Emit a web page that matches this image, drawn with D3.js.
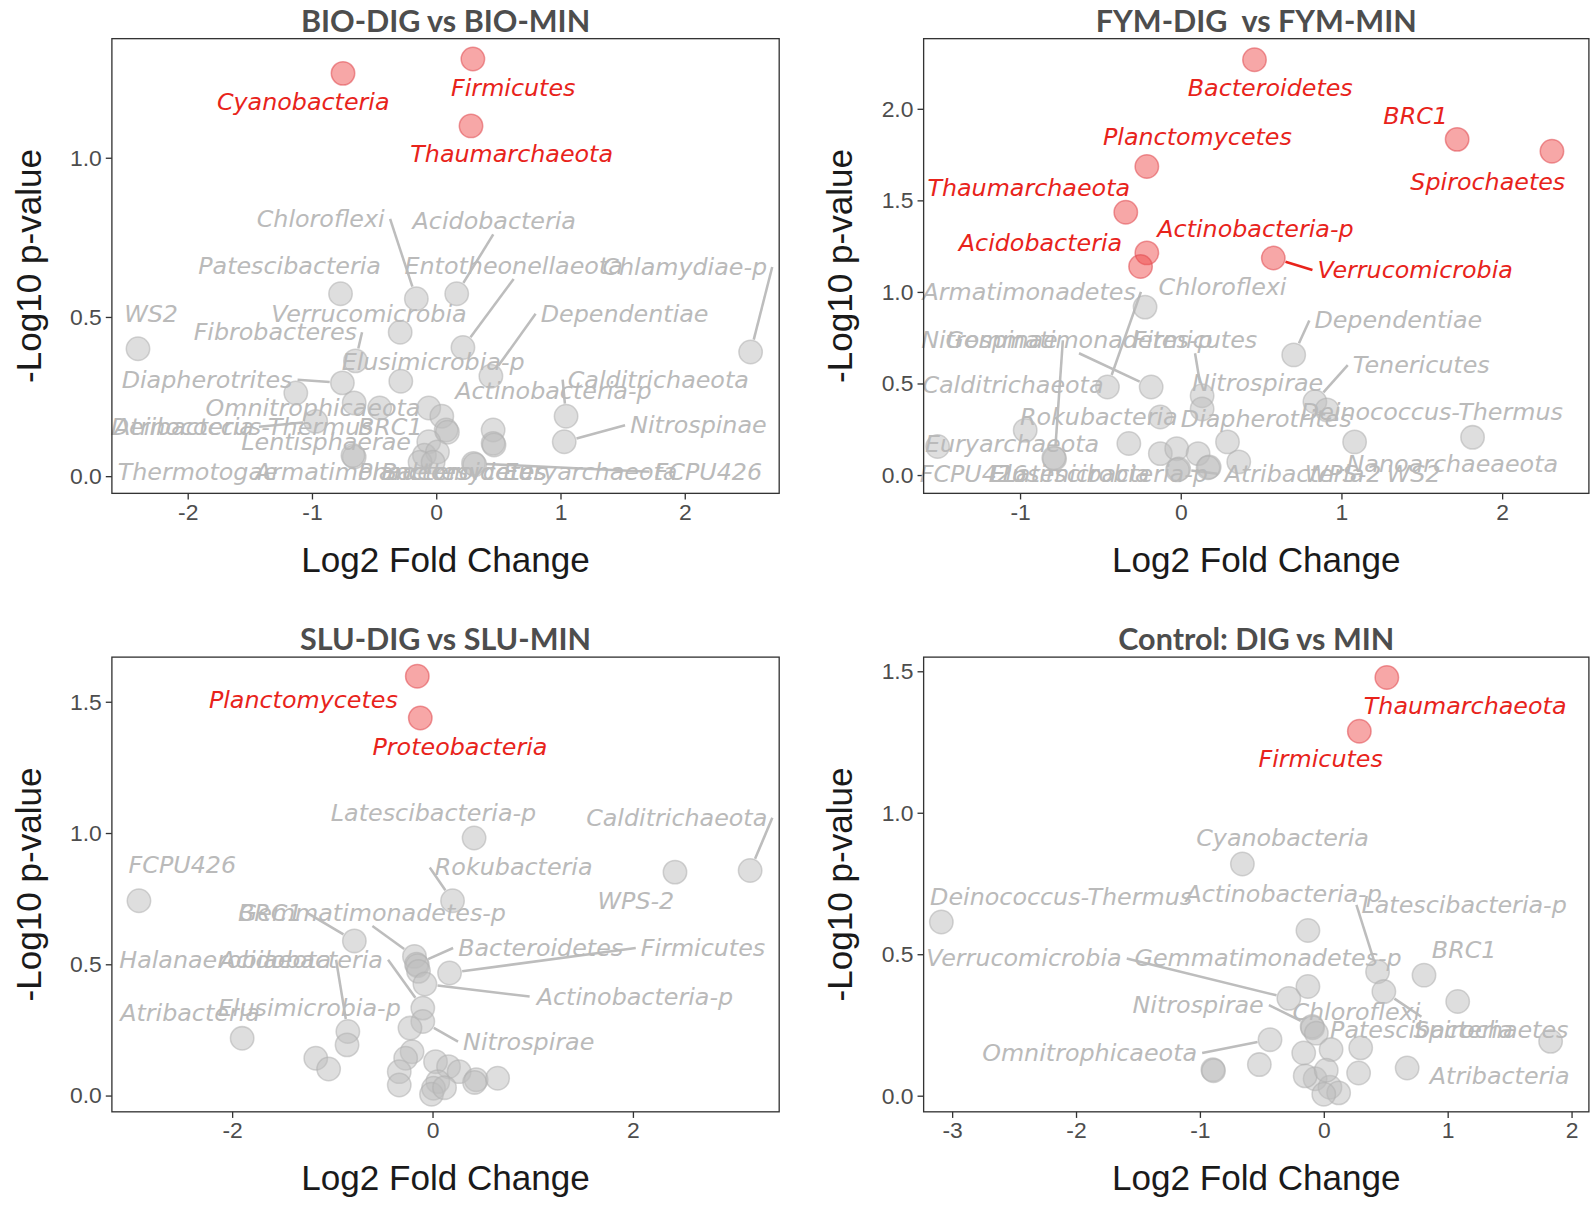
<!DOCTYPE html>
<html>
<head>
<meta charset="utf-8">
<script src="https://cdn.jsdelivr.net/npm/d3@7"></script>
<style>
  body { margin: 0; background: #fff; }
  svg { display: block; }
</style>
</head>
<body>
<div id="chart"></div>
<script>
// ---------------- data ----------------
const panelTitles = ['BIO-DIG vs BIO-MIN', 'FYM-DIG  vs FYM-MIN', 'SLU-DIG vs SLU-MIN', 'Control: DIG vs MIN'];

const xDomains = [[-2.61, 2.76], [-1.60, 2.54], [-3.2, 3.46], [-3.23, 2.14]];
const yDomains = [[-0.054, 1.374], [-0.1, 2.383], [-0.062, 1.67], [-0.057, 1.55]];
const xTicks = [[-2, -1, 0, 1, 2], [-1, 0, 1, 2], [-2, 0, 2], [-3, -2, -1, 0, 1, 2]];
const yTicks = [[0, 0.5, 1], [0, 0.5, 1, 1.5, 2], [0, 0.5, 1, 1.5], [0, 0.5, 1, 1.5]];

// [phylum, log2 fold change, -log10 p]  ('' = point without a label)
const bioPoints = [
  ['Cyanobacteria', -0.75, 1.265], ['Firmicutes', 0.295, 1.31], ['Thaumarchaeota', 0.28, 1.10],
  ['WS2', -2.40, 0.40], ['Chlamydiae-p', 2.53, 0.39], ['Patescibacteria', -0.77, 0.573],
  ['Chloroflexi', -0.16, 0.557], ['Acidobacteria', 0.165, 0.573], ['Entotheonellaeota', 0.215, 0.404],
  ['Verrucomicrobia', -0.29, 0.452], ['Fibrobacteres', -0.65, 0.362], ['Elusimicrobia-p', -0.285, 0.298],
  ['Dependentiae', 0.44, 0.314], ['Diapherotrites', -0.755, 0.293], ['Omnitrophicaeota', -1.13, 0.261],
  ['Lentisphaerae', -0.66, 0.23], ['BRC1', -0.455, 0.214], ['Actinobacteria-p', 0.458, 0.145],
  ['Calditrichaeota', 1.045, 0.188], ['Nitrospinae', 1.03, 0.108], ['Atribacteria', -0.97, 0.172],
  ['Deinococcus-Thermus', -0.06, 0.214], ['Thermotogae', 0.045, 0.188], ['Armatimonadetes', -0.66, 0.06],
  ['', -0.67, 0.065], ['', 0.08, 0.145], ['', 0.09, 0.138], ['', 0.458, 0.103], ['', 0.465, 0.098],
  ['Planctomycetes', -0.06, 0.108], ['Bacteroidetes', -0.095, 0.066], ['', 0.01, 0.076],
  ['', -0.13, 0.044], ['Euryarchaeota', -0.025, 0.044], ['FCPU426', 0.30, 0.04], ['', 0.31, 0.036]
];
const bioSignificant = ['Cyanobacteria', 'Firmicutes', 'Thaumarchaeota'];
// [phylum, label x, label y, leader line]
const bioLabels = [
  ['Cyanobacteria', -1.07, 1.176, 0], ['Firmicutes', 0.62, 1.22, 0], ['Thaumarchaeota', 0.607, 1.013, 0],
  ['Chloroflexi', -0.93, 0.808, 1], ['Acidobacteria', 0.467, 0.80, 1], ['Patescibacteria', -1.18, 0.66, 0],
  ['Entotheonellaeota', 0.623, 0.66, 1], ['Chlamydiae-p', 2.0, 0.657, 1], ['WS2', -2.295, 0.51, 0],
  ['Verrucomicrobia', -0.541, 0.51, 0], ['Dependentiae', 1.516, 0.51, 1], ['Fibrobacteres', -1.295, 0.452, 1],
  ['Elusimicrobia-p', -0.025, 0.357, 0], ['Diapherotrites', -1.844, 0.303, 1], ['Calditrichaeota', 1.787, 0.303, 1],
  ['Actinobacteria-p', 0.943, 0.267, 0], ['Omnitrophicaeota', -0.992, 0.214, 0], ['Atribacteria', -2.03, 0.155, 1],
  ['Deinococcus-Thermus', -1.565, 0.155, 0], ['BRC1', -0.37, 0.155, 0], ['Nitrospinae', 2.11, 0.16, 1],
  ['Lentisphaerae', -0.886, 0.108, 0], ['Thermotogae', -1.92, 0.014, 0], ['Armatimonadetes', -0.6, 0.014, 0],
  ['Planctomycetes', 0.13, 0.014, 0], ['Bacteroidetes', 0.22, 0.014, 0], ['Euryarchaeota', 1.24, 0.014, 0],
  ['FCPU426', 2.19, 0.014, 1]
];

const fymPoints = [
  ['Bacteroidetes', 0.459, 2.268], ['BRC1', 1.72, 1.833], ['Spirochaetes', 2.31, 1.768],
  ['Planctomycetes', -0.211, 1.685], ['Thaumarchaeota', -0.342, 1.435], ['Actinobacteria-p', -0.211, 1.213],
  ['Acidobacteria', -0.25, 1.139], ['Verrucomicrobia', 0.576, 1.185], ['Chloroflexi', -0.222, 0.917],
  ['Armatimonadetes', -0.456, 0.481], ['Gemmatimonadetes-p', -0.184, 0.481], ['Dependentiae', 0.703, 0.656],
  ['Firmicutes', 0.133, 0.433], ['Nitrospirae', 0.133, 0.361], ['Tenericutes', 0.835, 0.40],
  ['', 0.91, 0.356], ['Rokubacteria', -0.127, 0.317], ['', -0.323, 0.172], ['Diapherotrites', 0.291, 0.181],
  ['', -0.127, 0.117], ['', -0.025, 0.144], ['', 0.108, 0.117], ['Deinococcus-Thermus', 1.082, 0.181],
  ['Nanoarchaeaeota', 1.816, 0.206], ['WS2', 0.361, 0.072], ['Nitrospinae', -0.785, 0.089],
  ['FCPU426', -0.79, 0.094], ['Atribacteria', -0.013, 0.033], ['Elusimicrobia', -0.02, 0.028],
  ['Latescibacteria-p', 0.177, 0.044], ['WPS-2', 0.17, 0.04], ['Calditrichaeota', -0.968, 0.244],
  ['Euryarchaeota', -1.513, 0.156]
];
const fymSignificant = ['Bacteroidetes', 'BRC1', 'Spirochaetes', 'Planctomycetes', 'Thaumarchaeota',
  'Actinobacteria-p', 'Acidobacteria', 'Verrucomicrobia'];
const fymLabels = [
  ['Bacteroidetes', 0.557, 2.111, 0], ['BRC1', 1.462, 1.963, 0], ['Planctomycetes', 0.104, 1.844, 0],
  ['Spirochaetes', 1.911, 1.60, 0], ['Thaumarchaeota', -0.946, 1.565, 0], ['Actinobacteria-p', 0.465, 1.343, 0],
  ['Acidobacteria', -0.873, 1.268, 0], ['Verrucomicrobia', 1.459, 1.12, 1], ['Armatimonadetes', -0.943, 1.0, 1],
  ['Chloroflexi', 0.26, 1.028, 0], ['Dependentiae', 1.354, 0.844, 1], ['Nitrospinae', -1.19, 0.736, 1],
  ['Gemmatimonadetes-p', -0.633, 0.736, 1], ['Firmicutes', 0.089, 0.736, 1], ['Tenericutes', 1.497, 0.60, 1],
  ['Nitrospirae', 0.478, 0.50, 0], ['Calditrichaeota', -1.044, 0.489, 0], ['Rokubacteria', -0.51, 0.317, 0],
  ['Deinococcus-Thermus', 1.563, 0.344, 0], ['Diapherotrites', 0.532, 0.308, 0], ['Euryarchaeota', -1.05, 0.172, 0],
  ['FCPU426', -1.29, 0.007, 0], ['Elusimicrobia', -0.69, 0.007, 0], ['Latescibacteria-p', -0.47, 0.007, 0],
  ['Atribacteria', 0.708, 0.007, 1], ['WPS-2', 1.01, 0.007, 0], ['WS2', 1.45, 0.007, 0],
  ['Nanoarchaeaeota', 1.69, 0.063, 0]
];

const sluPoints = [
  ['Planctomycetes', -0.152, 1.597], ['Proteobacteria', -0.122, 1.438], ['Latescibacteria-p', 0.415, 0.981],
  ['Calditrichaeota', 3.17, 0.857], ['WPS-2', 2.42, 0.851], ['FCPU426', -2.93, 0.742],
  ['Rokubacteria', 0.20, 0.742], ['BRC1', -0.78, 0.589], ['Gemmatimonadetes-p', -0.18, 0.53],
  ['Bacteroidetes', -0.16, 0.50], ['', -0.15, 0.495], ['', -0.14, 0.473], ['Firmicutes', 0.17, 0.467],
  ['Actinobacteria-p', -0.076, 0.425], ['Acidobacteria', -0.097, 0.333], ['Nitrospirae', -0.097, 0.282],
  ['', -0.225, 0.257], ['Halanaerobiaeota', -0.845, 0.244], ['Elusimicrobia-p', -0.853, 0.193],
  ['Atribacteria', -1.90, 0.218], ['', -1.165, 0.142], ['', -1.037, 0.101], ['', -0.204, 0.167],
  ['', -0.268, 0.142], ['', -0.332, 0.091], ['', -0.332, 0.04], ['', 0.03, 0.129], ['', 0.16, 0.11],
  ['', 0.266, 0.091], ['', 0.436, 0.06], ['', 0.42, 0.05], ['', 0.65, 0.066], ['', 0.053, 0.053],
  ['', 0.01, 0.028], ['', -0.01, 0.005], ['', 0.12, 0.03]
];
const sluSignificant = ['Planctomycetes', 'Proteobacteria'];
const sluLabels = [
  ['Planctomycetes', -1.289, 1.508, 0], ['Proteobacteria', 0.274, 1.326, 0], ['Latescibacteria-p', 0.01, 1.078, 0],
  ['Calditrichaeota', 2.437, 1.058, 1], ['FCPU426', -2.497, 0.88, 0], ['Rokubacteria', 0.81, 0.869, 1],
  ['WPS-2', 2.03, 0.74, 0], ['BRC1', -1.62, 0.695, 1], ['Gemmatimonadetes-p', -0.60, 0.695, 1],
  ['Bacteroidetes', 1.08, 0.562, 1], ['Firmicutes', 2.70, 0.562, 1], ['Halanaerobiaeota', -2.07, 0.517, 1],
  ['Acidobacteria', -1.31, 0.517, 1], ['Actinobacteria-p', 2.02, 0.377, 1], ['Atribacteria', -2.42, 0.314, 0],
  ['Elusimicrobia-p', -1.23, 0.333, 0], ['Nitrospirae', 0.96, 0.205, 1]
];

const ctrlPoints = [
  ['Thaumarchaeota', 0.509, 1.478], ['Firmicutes', 0.287, 1.288], ['Deinococcus-Thermus', -3.087, 0.614],
  ['Cyanobacteria', -0.657, 0.819], ['Actinobacteria-p', -0.128, 0.584], ['Latescibacteria-p', 0.434, 0.438],
  ['Patescibacteria', 0.485, 0.368], ['BRC1', 0.809, 0.426], ['', 1.081, 0.333],
  ['Gemmatimonadetes-p', -0.128, 0.386], ['Verrucomicrobia', -0.282, 0.344], ['Nitrospirae', -0.094, 0.245],
  ['', -0.09, 0.24], ['Chloroflexi', -0.06, 0.221], ['', 0.059, 0.163], ['', 0.298, 0.169],
  ['Omnitrophicaeota', -0.434, 0.198], ['', -0.52, 0.11], ['', -0.895, 0.092], ['', -0.89, 0.088],
  ['', -0.162, 0.151], ['', 0.281, 0.08], ['Atribacteria', 0.673, 0.098], ['Spirochaetes', 1.831, 0.192],
  ['', -0.07, 0.06], ['', 0.05, 0.03], ['', 0.12, 0.01], ['', 0.0, 0.005], ['', -0.15, 0.07], ['', 0.02, 0.09]
];
const ctrlSignificant = ['Thaumarchaeota', 'Firmicutes'];
const ctrlLabels = [
  ['Thaumarchaeota', 1.141, 1.378, 0], ['Firmicutes', -0.025, 1.191, 0], ['Cyanobacteria', -0.333, 0.909, 0],
  ['Deinococcus-Thermus', -2.12, 0.703, 0], ['Actinobacteria-p', -0.324, 0.714, 0],
  ['Latescibacteria-p', 1.133, 0.674, 1], ['BRC1', 1.133, 0.514, 0], ['Verrucomicrobia', -2.42, 0.485, 1],
  ['Gemmatimonadetes-p', -0.45, 0.485, 0], ['Nitrospirae', -1.014, 0.32, 1], ['Chloroflexi', 0.263, 0.297, 0],
  ['Patescibacteria', 0.788, 0.233, 1], ['Spirochaetes', 1.35, 0.233, 0], ['Omnitrophicaeota', -1.89, 0.151, 1],
  ['Atribacteria', 1.42, 0.068, 0]
];

const panelPoints = [bioPoints, fymPoints, sluPoints, ctrlPoints];
const panelSignificant = [bioSignificant, fymSignificant, sluSignificant, ctrlSignificant];
const panelLabels = [bioLabels, fymLabels, sluLabels, ctrlLabels];

// ---------------- drawing ----------------
const W = 1595, H = 1211;
const S = 1595 / 1568;          // layout below was measured on a 1568-wide copy
const RED = '#e8231b', GREY_TEXT = '#bababa', R = 11.5;
const LABEL_FONT = '"DejaVu Sans", Verdana, sans-serif';
const AXIS_FONT = '"Liberation Sans", Arial, sans-serif';

const frames = [
  { left: 110, top: 38, width: 656, height: 447 },
  { left: 908, top: 38, width: 654, height: 447 },
  { left: 110, top: 646, width: 656, height: 447 },
  { left: 908, top: 646, width: 654, height: 447 }
];

const svg = d3.select('#chart').append('svg')
  .attr('width', W)
  .attr('height', H);

svg.append('rect').attr('width', W).attr('height', H).attr('fill', '#fff');
const root = svg.append('g').attr('transform', `scale(${S})`);

// ggrepel-like: join the segment to the nearest edge midpoint of the padded label box
function anchorOnBox(b, px, py) {
  const cx = b.x + b.width / 2, cy = b.y + b.height / 2;
  const cands = [[b.x, cy], [b.x + b.width, cy], [cx, b.y], [cx, b.y + b.height]];
  let best = null, bd = Infinity;
  cands.forEach(c => {
    const d = Math.hypot(px - c[0], py - c[1]);
    if (d < bd) { bd = d; best = c; }
  });
  return best;
}

frames.forEach((f, i) => {
  const x = d3.scaleLinear().domain(xDomains[i]).range([f.left, f.left + f.width]);
  const y = d3.scaleLinear().domain(yDomains[i]).range([f.top + f.height, f.top]);
  const g = root.append('g');

  // title
  g.append('text')
    .attr('x', f.left + f.width / 2)
    .attr('y', f.top - 7)
    .attr('text-anchor', 'middle')
    .attr('font-family', 'Lato, "Open Sans", sans-serif')
    .attr('font-weight', 700)
    .attr('font-size', '30px')
    .attr('fill', '#4d4d4d')
    .style('white-space', 'pre')
    .text(panelTitles[i]);

  // axes
  const xAxis = g.append('g')
    .attr('transform', `translate(0,${f.top + f.height})`)
    .call(d3.axisBottom(x).tickValues(xTicks[i]).tickFormat(d => String(d)).tickSize(6).tickSizeOuter(0).tickPadding(4));
  const yAxis = g.append('g')
    .attr('transform', `translate(${f.left},0)`)
    .call(d3.axisLeft(y).tickValues(yTicks[i]).tickFormat(d3.format('.1f')).tickSize(6).tickSizeOuter(0).tickPadding(4));
  [xAxis, yAxis].forEach(a => {
    a.select('.domain').remove();
    a.selectAll('line').attr('stroke', '#333').attr('stroke-width', 1.3);
    a.selectAll('text')
      .attr('font-family', AXIS_FONT)
      .attr('font-size', '22.5px')
      .attr('fill', '#4d4d4d');
  });

  // axis titles
  g.append('text')
    .attr('x', f.left + f.width / 2)
    .attr('y', f.top + f.height + 77)
    .attr('text-anchor', 'middle')
    .attr('font-family', AXIS_FONT)
    .attr('font-size', '34.5px')
    .attr('fill', '#1a1a1a')
    .text('Log2 Fold Change');
  g.append('text')
    .attr('transform', `translate(${f.left - 70},${f.top + f.height / 2}) rotate(-90)`)
    .attr('text-anchor', 'middle')
    .attr('font-family', AXIS_FONT)
    .attr('font-size', '34.5px')
    .attr('fill', '#1a1a1a')
    .text('-Log10 p-value');

  const sig = new Set(panelSignificant[i]);
  const pts = panelPoints[i];
  const byName = new Map(pts.filter(p => p[0]).map(p => [p[0], p]));

  const segLayer = g.append('g');
  const pointLayer = g.append('g');
  const labelLayer = g.append('g');

  pointLayer.selectAll('circle')
    .data(pts)
    .join('circle')
    .attr('cx', d => x(d[1]))
    .attr('cy', d => y(d[2]))
    .attr('r', R)
    .attr('fill', d => sig.has(d[0]) ? '#ee4444' : '#bebebe')
    .attr('fill-opacity', d => sig.has(d[0]) ? 0.47 : 0.5)
    .attr('stroke', d => sig.has(d[0]) ? '#e04a50' : '#b0b0b0')
    .attr('stroke-opacity', 0.55)
    .attr('stroke-width', 1.5);

  const labels = labelLayer.selectAll('text')
    .data(panelLabels[i])
    .join('text')
    .attr('x', d => x(d[1]))
    .attr('y', d => y(d[2]))
    .attr('text-anchor', 'middle')
    .attr('dominant-baseline', 'central')
    .attr('font-family', LABEL_FONT)
    .attr('font-style', 'italic')
    .attr('font-size', '23.4px')
    .attr('fill', d => sig.has(d[0]) ? RED : GREY_TEXT)
    .text(d => d[0]);

  // leader lines
  labels.each(function(d) {
    if (!d[3]) return;
    const p = byName.get(d[0]);
    if (!p) return;
    const px = x(p[1]), py = y(p[2]);
    const b = this.getBBox();
    const box = { x: b.x - 5, y: b.y + 1, width: b.width + 10, height: b.height - 2 };
    const [sx, sy] = anchorOnBox(box, px, py);
    const len = Math.hypot(px - sx, py - sy);
    if (len < R + 4) return;
    const ex = px - (px - sx) / len * (R + 1);
    const ey = py - (py - sy) / len * (R + 1);
    segLayer.append('line')
      .attr('x1', sx).attr('y1', sy)
      .attr('x2', ex).attr('y2', ey)
      .attr('stroke', sig.has(d[0]) ? RED : '#bdbdbd')
      .attr('stroke-width', 2.5);
  });

  // panel border
  g.append('rect')
    .attr('x', f.left).attr('y', f.top)
    .attr('width', f.width).attr('height', f.height)
    .attr('fill', 'none')
    .attr('stroke', '#333')
    .attr('stroke-width', 1.3);
});
</script>
</body>
</html>
